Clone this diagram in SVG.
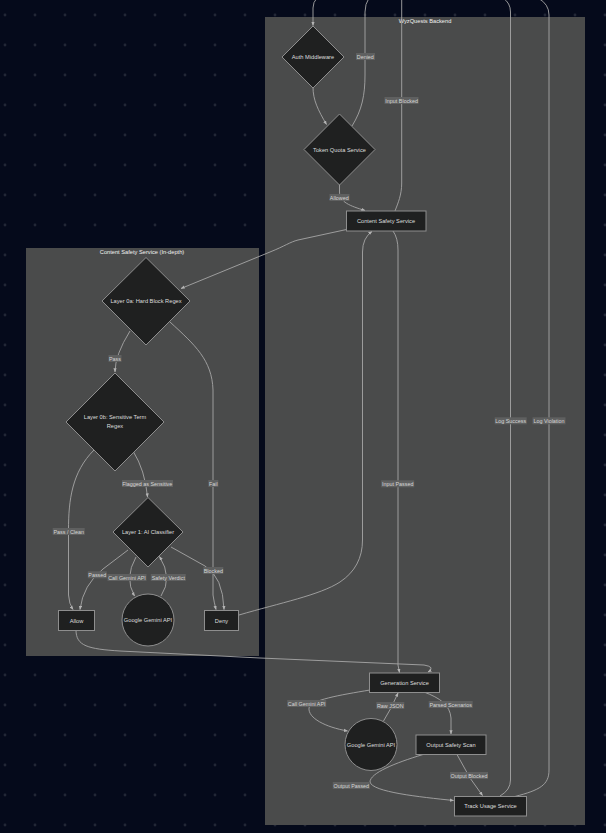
<svg xmlns="http://www.w3.org/2000/svg" width="606" height="833" viewBox="0 0 606 833">
<defs>
<pattern id="dots" width="30" height="30" patternUnits="userSpaceOnUse"><circle cx="5" cy="15" r="1.4" fill="#222736"/></pattern>
<marker id="arr" viewBox="0 0 10 10" refX="9" refY="5" markerWidth="4.5" markerHeight="4.5" orient="auto"><path d="M0,1 L10,5 L0,9 z" fill="#b4b4b4"/></marker>
</defs>
<style>
.cl{fill:#4a4b4b}
.ct{font-family:"Liberation Sans",Arial,sans-serif;font-size:5.7px;fill:#f2f2f2;text-anchor:middle;dominant-baseline:central}
.n{fill:#1f2020;stroke:#8e8e8e;stroke-width:1}
.nt{font-family:"Liberation Sans",Arial,sans-serif;font-size:5.7px;fill:#dedede;text-anchor:middle;dominant-baseline:central}
.e{fill:none;stroke:#a6a6a6;stroke-width:0.9}
.lb{fill:#5f6060}
.lt{font-family:"Liberation Sans",Arial,sans-serif;font-size:5.4px;fill:#d6d6d6;text-anchor:middle;dominant-baseline:central}
</style>
<rect width="606" height="833" fill="#050a1b"/>
<rect width="606" height="833" fill="url(#dots)"/>

<g id="cluster-backend">
<rect class="cl" x="265" y="17" width="320" height="808"/>
<text class="ct" x="425" y="21">WyzQuests Backend</text>
</g>
<g id="cluster-css">
<rect class="cl" x="26" y="248" width="233" height="408"/>
<text class="ct" x="142" y="252">Content Safety Service (In-depth)</text>
</g>

<g id="connectors">
<path class="e" d="M317,-2 Q313,2 313,8 L313,25.5" marker-end="url(#arr)"/>
<path class="e" d="M313,87 C313,100 318,110 326.5,124.5" marker-end="url(#arr)"/>
<path class="e" d="M352,126 C362,110 365,95 365,75 L365,12 Q365,4 369,-2"/>
<path class="e" d="M339.5,184 L339.5,192 C339.5,202 350,206 365,210.5" marker-end="url(#arr)"/>
<path class="e" d="M395,211 C398,203 401.7,195 401.7,183 L401.7,-2"/>
<path class="e" d="M346.5,229.5 L298,240 C290,242 285,246 270,252 L181,288.5" marker-end="url(#arr)"/>
<path class="e" d="M239,615 C280,603 320,595 340,582 C355,572 362.5,558 362.5,540 L362.5,252 Q362.5,238 372,231.5" marker-end="url(#arr)"/>
<path class="e" d="M393,231 Q398,238 398,250 L398,665 L399.5,672.5" marker-end="url(#arr)"/>
<path class="e" d="M130,331 Q115,355 115,372" marker-end="url(#arr)"/>
<path class="e" d="M170,322 C195,345 212,360 213,390 L213,595 Q214,602 216,609.5" marker-end="url(#arr)"/>
<path class="e" d="M133,451 Q145,470 147.5,497" marker-end="url(#arr)"/>
<path class="e" d="M94,450 C72,472 68.5,500 68.5,530 L68.5,595 Q69,604 73,609.5" marker-end="url(#arr)"/>
<path class="e" d="M128,550 L103,569 Q83,585 80,609.5" marker-end="url(#arr)"/>
<path class="e" d="M136,557 Q124,578 134.5,596" marker-end="url(#arr)"/>
<path class="e" d="M161,596 Q173,578 159.5,556.5" marker-end="url(#arr)"/>
<path class="e" d="M171,547 L205,566 Q223,577 224,609.5" marker-end="url(#arr)"/>
<path class="e" d="M76,630 C76,646 88,649 120,651 L260,658 L424,665 Q436,667 428,672" marker-end="url(#arr)"/>
<path class="e" d="M370,690 C340,695 310,700 309,708 C308,718 325,727 347.5,731" marker-end="url(#arr)"/>
<path class="e" d="M383.5,721 L391,708 L398,693" marker-end="url(#arr)"/>
<path class="e" d="M424,692 C440,698 450,705 451,718 L451,734" marker-end="url(#arr)"/>
<path class="e" d="M457,754.5 L470,778 L482.5,795.5" marker-end="url(#arr)"/>
<path class="e" d="M423,754.5 C395,763 370,773 370,782 C372,792 420,797 453.5,800.5" marker-end="url(#arr)"/>
<path class="e" d="M500,796 Q510.5,790 510.5,780 L510.5,12 Q510.5,3 503,-2"/>
<path class="e" d="M515,796.5 C540,790 549,785 549,770 L549,15 Q549,4 538,-2"/>

<g id="edge-labels">
<rect class="lb" x="356" y="53" width="19" height="7"/><text class="lt" x="365.3" y="56.7">Denied</text>
<rect class="lb" x="384.5" y="97" width="34" height="7"/><text class="lt" x="401.7" y="100.7">Input Blocked</text>
<rect class="lb" x="329.5" y="194" width="20" height="7"/><text class="lt" x="339.3" y="197.7">Allowed</text>
<rect class="lb" x="108.5" y="355" width="13" height="7"/><text class="lt" x="115" y="358.7">Pass</text>
<rect class="lb" x="122" y="480" width="51" height="7"/><text class="lt" x="147.3" y="483.7">Flagged as Sensitive</text>
<rect class="lb" x="208.3" y="480" width="10" height="7"/><text class="lt" x="213.3" y="483.7">Fail</text>
<rect class="lb" x="52.7" y="528" width="32" height="7"/><text class="lt" x="68.7" y="531.7">Pass / Clean</text>
<rect class="lb" x="87.8" y="571.3" width="19" height="7"/><text class="lt" x="97.3" y="575">Passed</text>
<rect class="lb" x="107.5" y="574" width="39" height="7"/><text class="lt" x="127" y="577.7">Call Gemini API</text>
<rect class="lb" x="150.8" y="574" width="35" height="7"/><text class="lt" x="168.3" y="577.7">Safety Verdict</text>
<rect class="lb" x="203.3" y="567" width="20" height="7"/><text class="lt" x="213.3" y="570.7">Blocked</text>
<rect class="lb" x="381.2" y="480.3" width="33" height="7"/><text class="lt" x="397.7" y="484">Input Passed</text>
<rect class="lb" x="494.7" y="417.3" width="32" height="7"/><text class="lt" x="510.7" y="421">Log Success</text>
<rect class="lb" x="532.5" y="417.3" width="33" height="7"/><text class="lt" x="549" y="421">Log Violation</text>
<rect class="lb" x="287.2" y="700" width="39" height="7"/><text class="lt" x="306.7" y="703.7">Call Gemini API</text>
<rect class="lb" x="376.3" y="702" width="28" height="7"/><text class="lt" x="390.3" y="705.7">Raw JSON</text>
<rect class="lb" x="428.7" y="701" width="44" height="7"/><text class="lt" x="450.7" y="704.7">Parsed Scenarios</text>
<rect class="lb" x="450" y="772" width="38" height="7"/><text class="lt" x="469" y="775.7">Output Blocked</text>
<rect class="lb" x="332.8" y="782" width="37" height="7"/><text class="lt" x="351.3" y="785.7">Output Passed</text>
</g>
</g>

<g id="auth-middleware"><polygon class="n" points="313,26 344,57 313,88 282,57"/><text class="nt" x="313" y="57">Auth Middleware</text></g>
<g id="token-quota"><polygon class="n" points="339.5,114 375,149.5 339.5,185 304,149.5"/><text class="nt" x="339.5" y="149.5">Token Quota Service</text></g>
<g id="content-safety"><rect class="n" x="346.5" y="211" width="79.5" height="20"/><text class="nt" x="386" y="221">Content Safety Service</text></g>
<g id="layer-0a"><polygon class="n" points="146,257.5 190,301 146,345 102,301"/><text class="nt" x="146" y="301">Layer 0a: Hard Block Regex</text></g>
<g id="layer-0b"><polygon class="n" points="115,373 164,422 115,471 66,422"/><text class="nt" x="115" y="417">Layer 0b: Sensitive Term</text><text class="nt" x="115" y="426">Regex</text></g>
<g id="layer-1"><polygon class="n" points="148,497.5 183,532 148,567 113,532"/><text class="nt" x="148" y="532">Layer 1: AI Classifier</text></g>
<g id="allow"><rect class="n" x="58.5" y="610.5" width="36" height="20"/><text class="nt" x="76.5" y="620.5">Allow</text></g>
<g id="gemini-left"><circle class="n" cx="148" cy="620" r="26"/><text class="nt" x="148" y="620">Google Gemini API</text></g>
<g id="deny"><rect class="n" x="204.5" y="610.5" width="34" height="20"/><text class="nt" x="221.5" y="620.5">Deny</text></g>
<g id="generation"><rect class="n" x="369.5" y="673" width="70" height="19.5"/><text class="nt" x="404.5" y="682.8">Generation Service</text></g>
<g id="gemini-bottom"><circle class="n" cx="371" cy="744.5" r="26"/><text class="nt" x="371" y="744.5">Google Gemini API</text></g>
<g id="output-scan"><rect class="n" x="416" y="735" width="70" height="19.5"/><text class="nt" x="451" y="744.8">Output Safety Scan</text></g>
<g id="track-usage"><rect class="n" x="454.5" y="796.5" width="72" height="19.5"/><text class="nt" x="490.5" y="806.3">Track Usage Service</text></g>
</svg>
